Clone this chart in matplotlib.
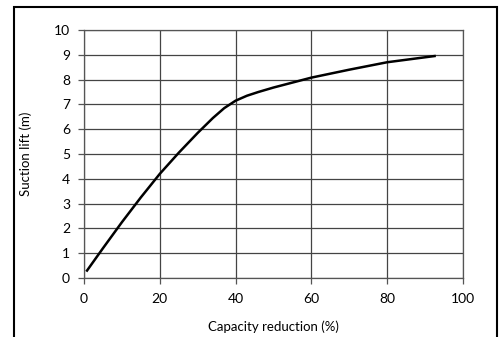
import matplotlib.pyplot as plt
from matplotlib.patches import Rectangle

# Capacity reduction (%) vs suction lift (m)
capacidad = [0.8, 5, 10, 15, 20, 25, 30, 34, 37, 40, 43, 46, 50, 55, 60, 70, 80, 92.5]
succion = [0.3, 1.2, 2.25, 3.25, 4.2, 5.05, 5.85, 6.45, 6.85, 7.15, 7.35, 7.5, 7.68, 7.88, 8.08, 8.4, 8.7, 8.95]

plt.rcParams['font.family'] = ['Lato', 'DejaVu Sans']

fig = plt.figure(figsize=(4.99, 3.37), dpi=100)
ax = fig.add_axes([84/499, 1 - 278/337, (463-84)/499, (278-30)/337])

ax.plot(capacidad, succion, color='black', linewidth=1.8)

ax.set_xlim(0, 100)
ax.set_ylim(0, 10)
ax.set_xticks(range(0, 101, 20))
ax.set_yticks(range(0, 11))
ax.grid(True, color='#444444', linewidth=0.9)
for s in ax.spines.values():
    s.set_color('#555555')
    s.set_linewidth(0.9)
ax.tick_params(direction='out', length=4, width=0.9, color='#555555', labelsize=10)
ax.tick_params(axis='x', pad=7)
ax.tick_params(axis='y', pad=6)

ax.set_xlabel("Capacity reduction (%)", fontsize=9.5, labelpad=11)
ax.set_ylabel("Suction lift (m)", fontsize=9.5, labelpad=16)

# marco exterior
fig.patches.append(Rectangle((14/499, -0.01), (497-14)/499, 1 - 7/337 + 0.01,
                             transform=fig.transFigure, fill=False,
                             edgecolor='black', linewidth=1.5))

fig.savefig("out.png", dpi=100)
